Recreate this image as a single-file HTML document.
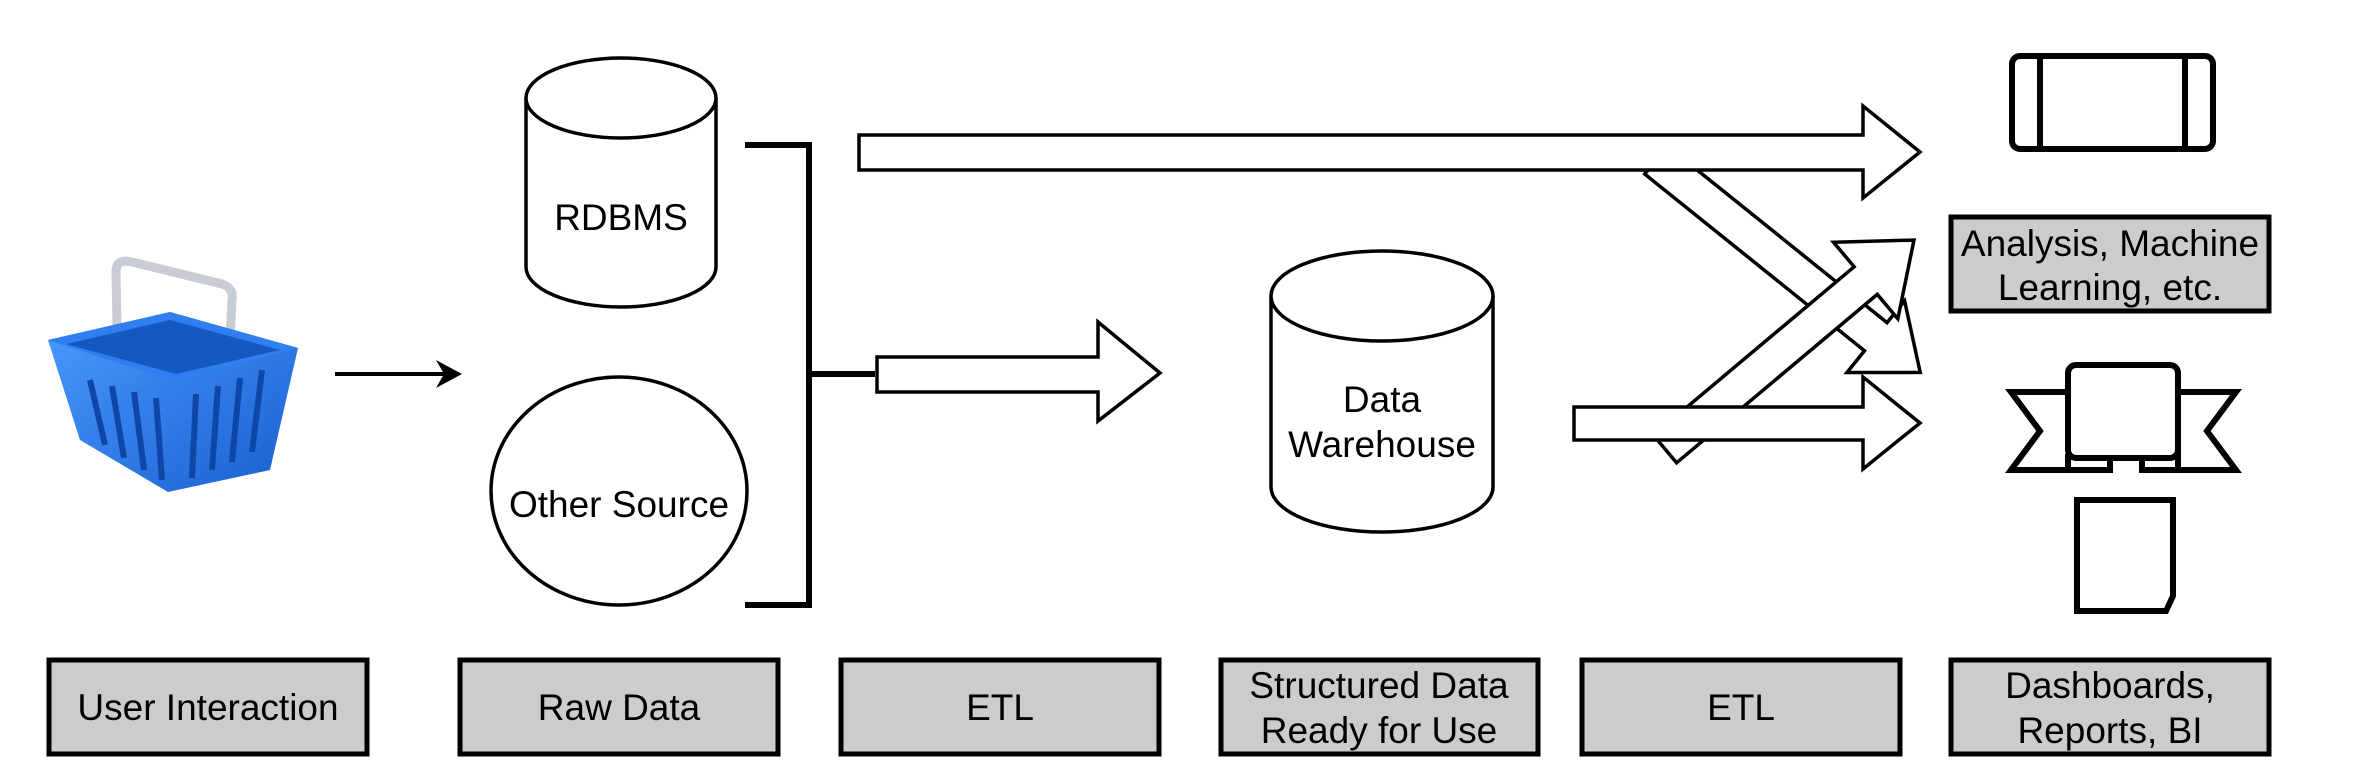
<!DOCTYPE html>
<html><head><meta charset="utf-8"><style>
html,body{margin:0;padding:0;background:#fff}
svg{display:block}
text{font-family:"Liberation Sans",Arial,sans-serif;font-size:37px;fill:#000}
</style></head><body>
<svg width="2373" height="779" viewBox="0 0 2373 779" xmlns="http://www.w3.org/2000/svg">
<defs>
<linearGradient id="bl" x1="0" y1="0" x2="1" y2="1"><stop offset="0" stop-color="#4a9bff"/><stop offset="1" stop-color="#1a5fd0"/></linearGradient>
</defs>
<!-- basket -->
<path d="M118 380 L116 272 Q116 258 132 262 L222 284 Q234 288 232 300 L228 380" fill="none" stroke="#c8ccd4" stroke-width="9"/>
<polygon points="48,340 170,312 298,348 270,470 168,492 80,440" fill="url(#bl)"/>
<polygon points="48,340 170,312 298,348 176,382" fill="#2f7ff0"/>
<polygon points="66,344 170,320 280,350 176,374" fill="#1558c0"/>
<g stroke="#0e47a8" stroke-width="6">
<line x1="90" y1="380" x2="105" y2="445"/><line x1="112" y1="386" x2="124" y2="458"/><line x1="134" y1="392" x2="144" y2="470"/><line x1="156" y1="398" x2="162" y2="480"/><line x1="196" y1="394" x2="192" y2="478"/><line x1="218" y1="386" x2="212" y2="470"/><line x1="240" y1="378" x2="232" y2="462"/><line x1="262" y1="370" x2="252" y2="452"/>
</g>
<!-- small arrow -->
<line x1="335" y1="374" x2="445" y2="374" stroke="#000" stroke-width="4"/>
<polygon points="462,374 436,360 444,374 436,388" fill="#000"/>
<!-- cylinders -->
<g fill="#fff" stroke="#000" stroke-width="3.5">
<path d="M526 98 A95 40 0 0 1 716 98 L716 267 A95 40 0 0 1 526 267 Z"/>
<path d="M526 98 A95 40 0 0 0 716 98"/>
<ellipse cx="619" cy="491" rx="128" ry="114"/>
<path d="M1271 296 A111 45 0 0 1 1493 296 L1493 487 A111 45 0 0 1 1271 487 Z"/>
<path d="M1271 296 A111 45 0 0 0 1493 296"/>
</g>
<text x="621" y="230" text-anchor="middle">RDBMS</text>
<text x="619" y="517" text-anchor="middle">Other Source</text>
<text x="1382" y="412" text-anchor="middle">Data</text>
<text x="1382" y="457" text-anchor="middle">Warehouse</text>
<!-- bracket -->
<path d="M745 145 L809 145 L809 605 L745 605 M809 374 L875 374" fill="none" stroke="#000" stroke-width="6"/>
<!-- arrows -->
<g fill="#fff" stroke="#000" stroke-width="3.5" stroke-linejoin="miter">
<g transform="translate(1656,160) rotate(38.8)"><polygon points="0,-18 282,-18 282,-46 339,0 282,46 282,18 0,18"/></g>
<g transform="translate(1665,449) rotate(-40)"><polygon points="0,-18 262,-18 262,-50 325,0 262,50 262,18 0,18"/></g>
<polygon points="877,357 1098,357 1098,322 1160,373 1098,421 1098,392 877,392"/>
<polygon points="859,135 1863,135 1863,106 1920,152 1863,198 1863,170 859,170"/>
<polygon points="1574,407 1863,407 1863,377 1920,423 1863,469 1863,440 1574,440"/>
</g>
<!-- right icons -->
<g fill="#fff" stroke="#000" stroke-width="6">
<rect x="2012" y="56" width="201" height="93" rx="8"/>
<line x1="2040" y1="56" x2="2040" y2="149"/><line x1="2185" y1="56" x2="2185" y2="149"/>
<polygon points="2011,392 2070,392 2070,470 2011,470 2040,431"/>
<polygon points="2236,392 2178,392 2178,470 2236,470 2207,431"/>
<rect x="2068" y="457" width="42" height="13"/>
<rect x="2142" y="457" width="36" height="13"/>
<rect x="2068" y="365" width="110" height="93" rx="8"/>
<polygon points="2077,500 2173,500 2173,596 2166,611 2077,611"/>
</g>
<!-- label boxes -->
<g fill="#cccccc" stroke="#000" stroke-width="5">
<rect x="49" y="660" width="318" height="94"/>
<rect x="460" y="660" width="318" height="94"/>
<rect x="841" y="660" width="318" height="94"/>
<rect x="1221" y="660" width="317" height="94"/>
<rect x="1582" y="660" width="318" height="94"/>
<rect x="1951" y="660" width="318" height="94"/>
<rect x="1951" y="217" width="318" height="94"/>
</g>
<text x="208" y="720" text-anchor="middle">User Interaction</text>
<text x="619" y="720" text-anchor="middle">Raw Data</text>
<text x="1000" y="720" text-anchor="middle">ETL</text>
<text x="1379" y="698" text-anchor="middle">Structured Data</text>
<text x="1379" y="743" text-anchor="middle">Ready for Use</text>
<text x="1741" y="720" text-anchor="middle">ETL</text>
<text x="2110" y="698" text-anchor="middle">Dashboards,</text>
<text x="2110" y="743" text-anchor="middle">Reports, BI</text>
<text x="2110" y="256" text-anchor="middle">Analysis, Machine</text>
<text x="2110" y="300" text-anchor="middle">Learning, etc.</text>
</svg>
</body></html>
